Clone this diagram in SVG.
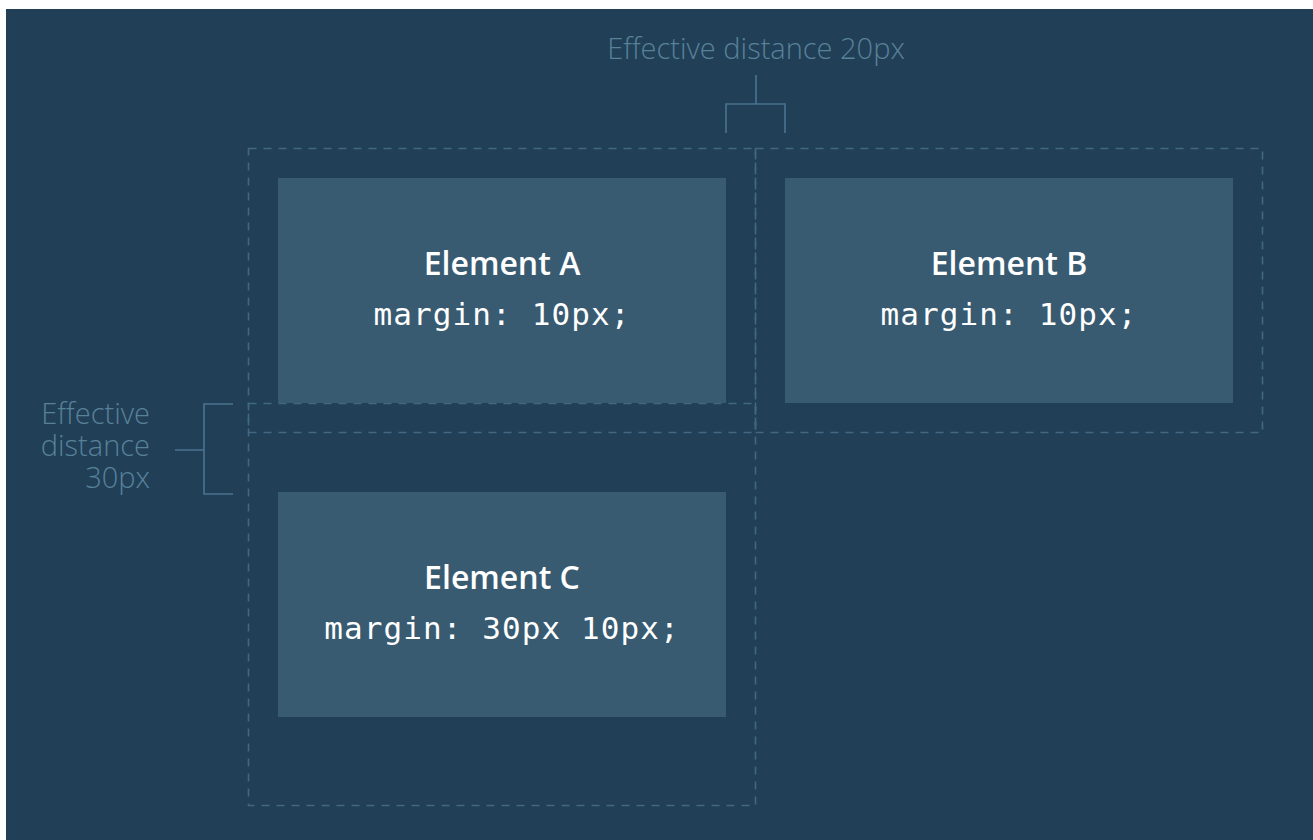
<svg xmlns="http://www.w3.org/2000/svg" width="1313" height="840" viewBox="0 0 1313 840">
<style>
.bg{fill:#213f56}
.box{fill:#385b71}
.margin{fill:none;stroke:#416883;stroke-width:1.6;stroke-dasharray:8 7}
.br{fill:none;stroke:#4a7390;stroke-width:1.6}
.lbl{font-family:"Open Sans","Liberation Sans",sans-serif;font-weight:300;fill:#58819a;font-size:29px}
.title{font-family:"Open Sans","Liberation Sans",sans-serif;font-weight:600;font-size:32px;fill:#ffffff;text-anchor:middle}
.code{font-family:"DejaVu Sans Mono","Liberation Mono",monospace;font-size:31px;fill:#ffffff;text-anchor:middle;letter-spacing:1.1px}
</style>
<rect x="0" y="0" width="1313" height="840" fill="#ffffff"/>
<rect class="bg" x="6" y="9" width="1307" height="831"/>
<g id="connectors">
<rect class="margin" x="248.5" y="148.5" width="507" height="284"/>
<rect class="margin" x="755.5" y="148.5" width="507" height="284"/>
<rect class="margin" x="248.5" y="403.5" width="507" height="402"/>
<path class="br" d="M756 75V104M726 133V104H785V133"/>
<path class="br" d="M233 404H204V494H233M175 450H204"/>
</g>
<g id="label-top">
<text class="lbl" x="756" y="59" text-anchor="middle">Effective distance 20px</text>
</g>
<g id="label-left">
<text class="lbl" text-anchor="end"><tspan x="150" y="424">Effective</tspan><tspan x="150" y="456">distance</tspan><tspan x="150" y="488">30px</tspan></text>
</g>
<g id="element-a">
<rect class="box" x="278" y="178" width="448" height="225"/>
<text class="title" x="502" y="275">Element A</text>
<text class="code" x="502" y="325">margin: 10px;</text>
</g>
<g id="element-b">
<rect class="box" x="785" y="178" width="448" height="225"/>
<text class="title" x="1009" y="275">Element B</text>
<text class="code" x="1009" y="325">margin: 10px;</text>
</g>
<g id="element-c">
<rect class="box" x="278" y="492" width="448" height="225"/>
<text class="title" x="502" y="589">Element C</text>
<text class="code" x="502" y="639">margin: 30px 10px;</text>
</g>
</svg>
